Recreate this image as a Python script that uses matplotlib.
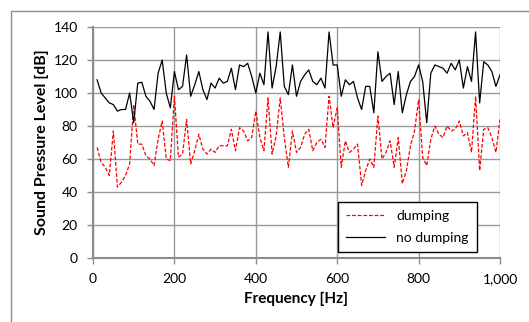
import numpy as np
import matplotlib
matplotlib.use("Agg")
import matplotlib.pyplot as plt
from matplotlib.patches import Rectangle

# frequency points (Hz)
freq = list(range(10, 1001, 10))

# sound pressure level without dumping (dB)
no_dumping = [108, 100, 97, 94, 93, 89, 90, 90, 100, 82,
              106, 106.5, 98, 95, 90, 112, 120, 100, 91, 113,
              102, 104, 123, 98, 105, 113, 102, 96, 106, 103,
              109, 106, 107, 115, 102, 117, 116, 118, 110, 100,
              112, 105, 137, 103, 116, 137, 104, 99, 117, 98,
              107, 111, 114, 107, 105, 109, 103, 137, 117, 117,
              98, 108, 105, 107, 97, 90, 104, 104, 88, 125,
              107, 110, 112, 93, 113, 88, 99, 107, 110, 117,
              107, 82, 112, 117, 116, 115, 112, 118, 114, 120,
              103, 116, 107, 137, 94, 119, 117, 113, 104, 111]

# sound pressure level with dumping (dB)
dumping = [67, 58, 55, 50, 77, 43, 46, 50, 57, 93,
           69, 69, 62, 60, 56, 72, 83, 60, 59, 98,
           61, 63, 84, 57, 65, 75, 66, 63, 66, 64,
           68, 68, 68, 78, 65, 79, 77, 71, 73, 89,
           73, 65, 97, 63, 74, 97, 73, 55, 77, 64,
           67, 75, 78, 65, 70, 72, 67, 98, 79, 91,
           55, 71, 64, 66, 69, 44, 53, 60, 55, 86,
           60, 64, 71, 55, 73, 45, 53, 68, 77, 96,
           61, 56, 72, 80, 75, 73, 80, 77, 78, 83,
           74, 76, 64, 98, 53, 78, 79, 73, 64, 84]

plt.rcParams['font.family'] = ['Lato', 'DejaVu Sans']

fig = plt.figure(figsize=(5.29, 3.22), dpi=100)
# outer chart-area frame
fig.patches.append(Rectangle((11 / 529, -0.1), 1.2, 1 - 11 / 322 + 0.1,
                             transform=fig.transFigure, fill=False,
                             edgecolor="#8c8c8c", linewidth=1))

ax = fig.add_axes([93 / 529, 1 - 258 / 322, 407 / 529, 231 / 322])

ax.plot(freq, dumping, color="red", linestyle="--", linewidth=0.9,
        dashes=(3, 1.5), label="dumping")
ax.plot(freq, no_dumping, color="black", linewidth=0.9, label="no dumping")

ax.set_xlim(0, 1000)
ax.set_ylim(0, 140)
ax.set_xticks(range(0, 1001, 200))
ax.set_xticklabels(["0", "200", "400", "600", "800", "1,000"])
ax.set_yticks(range(0, 141, 20))

ax.grid(True, color="#9a9a9a", linewidth=1)
ax.set_axisbelow(True)
for s in ["top", "right"]:
    ax.spines[s].set_visible(False)
for s in ["left", "bottom"]:
    ax.spines[s].set_color("#8c8c8c")
    ax.spines[s].set_linewidth(1.5)

ax.tick_params(axis="both", labelsize=10, color="#8c8c8c", length=4, width=1)
ax.tick_params(axis="y", pad=7)
ax.tick_params(axis="x", pad=7)
ax.set_xlabel("Frequency [Hz]", fontsize=11, fontweight="bold", labelpad=5)
ax.set_ylabel("Sound Pressure Level [dB]", fontsize=11.5, fontweight="bold", labelpad=3)

leg = ax.legend(loc="lower right", bbox_to_anchor=(0.943, 0.026), fontsize=10,
                fancybox=False, framealpha=1, edgecolor="black",
                handlelength=2.8, borderpad=0.6, labelspacing=0.7,
                borderaxespad=0)
leg.get_frame().set_linewidth(1)

fig.savefig("out.png", dpi=100)
